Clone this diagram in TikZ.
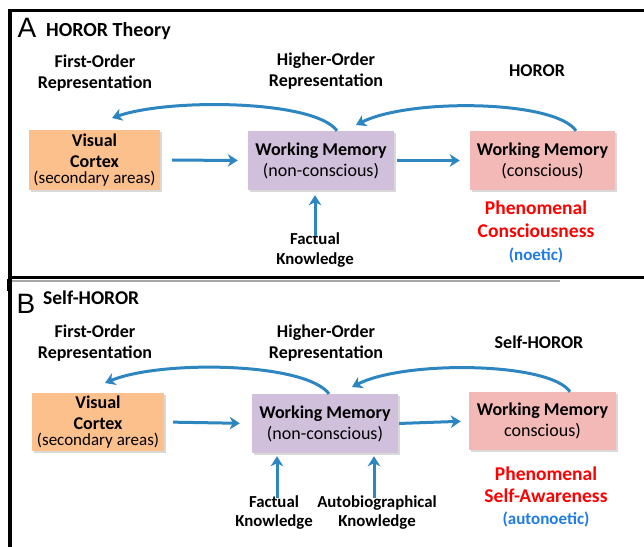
\documentclass[tikz,border=0pt]{standalone}
\usepackage{fontspec}
\setmainfont{Carlito}
\newfontfamily\lettfont{Liberation Sans}
\usetikzlibrary{arrows.meta,shadows}
\definecolor{arrblue}{RGB}{46,134,193}
\definecolor{boxorange}{RGB}{252,192,141}
\definecolor{boxpurple}{RGB}{208,192,220}
\definecolor{boxpink}{RGB}{243,185,183}
\definecolor{txtblue}{RGB}{30,123,232}
\begin{document}
\begin{tikzpicture}[x=1pt,y=-1pt,
  box/.style={inner sep=0pt, align=center, font=\fontsize{18}{21}\selectfont,
    drop shadow={shadow xshift=1.5pt,shadow yshift=-2pt,opacity=0.3}},
  lab/.style={inner sep=0pt, align=center, font=\bfseries\fontsize{18}{21}\selectfont},
  klab/.style={inner sep=0pt, align=center, font=\bfseries\fontsize{16.8}{19.5}\selectfont},
  phen/.style={inner sep=0pt, align=center, text=red, font=\bfseries\fontsize{19.5}{23}\selectfont},
  arr/.style={draw=arrblue, line width=3pt, -{Stealth[length=10pt,width=12.5pt,inset=3pt]}},
  panel/.style={line width=3.5pt, line cap=rect}
]
\useasboundingbox (0,0) rectangle (644,546);
% panel frames
\draw[panel] (646,10.5) -- (10,10.5) -- (10,277.5) -- (646,277.5);
\draw[black!35, line width=2pt] (12,281) -- (560,281);
\draw[panel] (10,279) -- (10,548);
\draw[line width=3pt] (8,279) -- (8,291);

% ===== Panel A =====
\node[inner sep=0pt, font=\lettfont\fontsize{28}{30}\selectfont] (Aletter) at (27,28) {A};
\node[inner sep=0pt, anchor=west, font=\bfseries\fontsize{20}{22}\selectfont] (Atitle) at (46,31) {HOROR Theory};

\node[lab] (foA) at (95,73) {First-Order\\Representation};
\node[lab] (hoA) at (326,71) {Higher-Order\\Representation};
\node[lab] (hrA) at (537,71) {HOROR};

\node[box, fill=boxorange, minimum width=131pt, minimum height=60pt] (visA) at (94.5,160)
  {\textbf{Visual}\\\textbf{Cortex}\\[-4.5pt]{\fontsize{17}{20}\selectfont(secondary areas)}};
\node[box, fill=boxpurple, minimum width=146pt, minimum height=59pt] (wmA) at (321,160.5)
  {\textbf{Working Memory}\\(non-conscious)};
\node[box, fill=boxpink, minimum width=145pt, minimum height=59pt] (wmcA) at (542.5,160.5)
  {\textbf{Working Memory}\\(conscious)};

\node[klab] (factA) at (315,250) {Factual\\Knowledge};
\node[phen] (phA) at (536,232) {Phenomenal\\Consciousness\\{\color{txtblue}\fontsize{17}{20}\selectfont(noetic)}};

\coordinate (endA1) at (112,118);
\coordinate (endA2) at (356,125);
\draw[arr] ([xshift=16pt]wmA.north) .. controls (315,100) and (170,98) .. (endA1);
\draw[arr] ([xshift=33.5pt]wmcA.north) .. controls (555,100) and (410,98) .. (endA2);

\draw[arr, shorten <=12pt, shorten >=10pt] (visA.east) -- (wmA.west);
\draw[arr, shorten <=3pt, shorten >=10pt] (wmA.east) -- (wmcA.west);
\draw[arr, shorten <=-3pt, shorten >=5pt] (factA.north) -- (factA.north |- wmA.south);

% ===== Panel B =====
\node[inner sep=0pt, font=\lettfont\fontsize{28}{30}\selectfont] (Bletter) at (26,304) {B};
\node[inner sep=0pt, anchor=west, font=\bfseries\fontsize{19.5}{22}\selectfont] (Btitle) at (43,298) {Self-HOROR};

\node[lab] (foB) at (95,343.5) {First-Order\\Representation};
\node[lab] (hoB) at (326,343) {Higher-Order\\Representation};
\node[lab] (hrB) at (539,342) {Self-HOROR};

\node[box, fill=boxorange, minimum width=132pt, minimum height=58pt] (visB) at (98,422)
  {\textbf{Visual}\\\textbf{Cortex}\\[-4.5pt]{\fontsize{17}{20}\selectfont(secondary areas)}};
\node[box, fill=boxpurple, minimum width=146pt, minimum height=59pt] (wmB) at (325,423.5)
  {\textbf{Working Memory}\\(non-conscious)};
\node[box, fill=boxpink, minimum width=147pt, minimum height=58pt] (wmcB) at (542.5,421)
  {\textbf{Working Memory}\\conscious)};

\node[klab] (factB) at (274,512.5) {Factual\\Knowledge};
\node[klab] (autoB) at (377,512.5) {Autobiographical\\Knowledge};
\node[phen, font=\bfseries\fontsize{19.5}{22}\selectfont] (phB) at (546,497) {Phenomenal\\Self-Awareness\\{\color{txtblue}\fontsize{17}{20}\selectfont(autonoetic)}};

\coordinate (endB1) at (105,383);
\coordinate (endB2) at (352,387);
\draw[arr] ([xshift=4pt]wmB.north) .. controls (305,362) and (160,360) .. (endB1);
\draw[arr] ([xshift=27.5pt]wmcB.north) .. controls (550,362) and (405,360) .. (endB2);

\draw[arr, shorten <=9pt, shorten >=12pt] (visB.east) -- (wmB.west);
\draw[arr, shorten <=1pt, shorten >=8pt] (wmB.east) -- (wmcB.west);
\draw[arr, shorten <=-3pt, shorten >=3pt] ([xshift=3pt]factB.north) -- ([xshift=3pt]factB.north |- wmB.south);
\draw[arr, shorten <=-3pt, shorten >=3pt] ([xshift=-3pt]autoB.north) -- ([xshift=-3pt]autoB.north |- wmB.south);
\end{tikzpicture}
\end{document}
